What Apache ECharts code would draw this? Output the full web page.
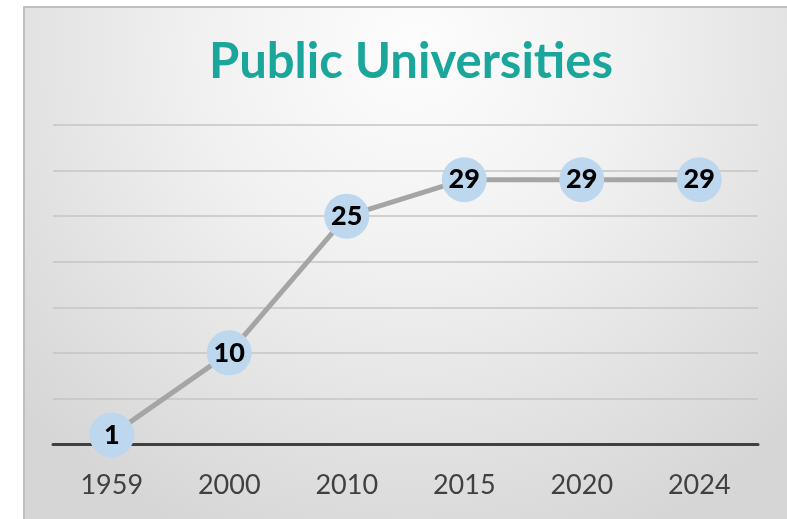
<!DOCTYPE html>
<html><head><meta charset="utf-8">
<script src="https://cdn.jsdelivr.net/npm/echarts@6/dist/echarts.min.js"></script>
<style>html,body{margin:0;padding:0;background:#fff}#c{width:787px;height:519px}</style>
</head><body><div id="c"></div>
<script>
const categories = ['1959','2000','2010','2015','2020','2024'];
const universities = [1,10,25,29,29,29];
const chart = echarts.init(document.getElementById('c'), null, {renderer:'canvas'});
chart.setOption({
  animation:false,
  graphic:[
    {type:'rect', z:-10, shape:{x:24,y:7,width:780,height:530},
     style:{fill:{type:'radial',x:0.5,y:0.08,r:1.0,colorStops:[{offset:0,color:'#fdfdfd'},{offset:0.4,color:'#f1f1f1'},{offset:1,color:'#d6d6d6'}]},
       stroke:'#bfbfbf', lineWidth:2}}
  ],
  title:{text:'Public Universities', left:406, textAlign:'center', top:33,
    textStyle:{fontFamily:'Lato', fontWeight:'bold', fontSize:49, color:'#1ba69c'}},
  grid:{left:53,right:29,top:125,bottom:75},
  xAxis:{type:'category', data:categories, boundaryGap:true,
    axisLine:{lineStyle:{color:'#404040',width:3}}, axisTick:{show:false},
    axisLabel:{fontFamily:'Lato', fontSize:27, color:'#404040', margin:28}},
  yAxis:{type:'value', min:0, max:35, interval:5,
    axisLabel:{show:false}, axisLine:{show:false}, axisTick:{show:false},
    splitLine:{lineStyle:{color:'#c4c4c4',width:1.5}}},
  series:[{type:'line', data:universities, symbol:'circle', symbolSize:45,
    lineStyle:{color:'#a5a5a5',width:5},
    itemStyle:{color:'#bdd7ee'},
    label:{show:true, position:'inside', fontFamily:'Lato', fontWeight:900, fontSize:27, color:'#000'}}]
});
</script></body></html>
